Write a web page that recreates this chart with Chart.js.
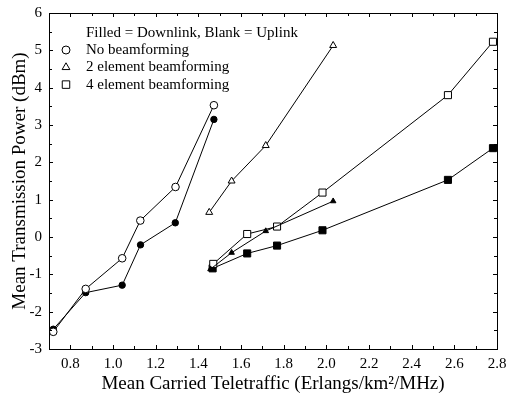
<!DOCTYPE html>
<html>
<head>
<meta charset="utf-8">
<script src="https://cdn.jsdelivr.net/npm/chart.js@4/dist/chart.umd.min.js"></script>
<style>
  body { margin: 0; background: #fff; }
</style>
</head>
<body>
<canvas id="chart" width="507" height="400"></canvas>
<script>
// values
const noBfUpX = [0.72, 0.872, 1.043, 1.128, 1.293, 1.473];
const noBfUpY = [-2.54, -1.39, -0.57, 0.44, 1.34, 3.53];
const noBfDownX = [0.72, 0.872, 1.043, 1.129, 1.292, 1.473];
const noBfDownY = [-2.47, -1.49, -1.29, -0.21, 0.38, 3.15];

const bf2UpX = [1.451, 1.556, 1.716, 2.032];
const bf2UpY = [0.66, 1.5, 2.45, 5.13];
const bf2DownX = [1.457, 1.556, 1.716, 2.032];
const bf2DownY = [-0.86, -0.42, 0.16, 0.96];

const bf4UpX = [1.47, 1.629, 1.769, 1.982, 2.57, 2.781];
const bf4UpY = [-0.72, 0.08, 0.28, 1.19, 3.8, 5.23];
const bf4DownX = [1.467, 1.629, 1.769, 1.982, 2.57, 2.781];
const bf4DownY = [-0.84, -0.44, -0.23, 0.18, 1.53, 2.38];

const legendHeader = "Filled = Downlink, Blank = Uplink";
const legendLabels = ["No beamforming", "2 element beamforming", "4 element beamforming"];
const xTitle = "Mean Carried Teletraffic (Erlangs/km\u00B2/MHz)";
const yTitle = "Mean Transmission Power (dBm)";

const serif = "'Liberation Serif', 'Times New Roman', serif";

function pts(xs, ys) {
    return xs.map((x, i) => ({x: x, y: ys[i]}));
}

function series(xs, ys, style, radius, filled) {
    return {
        data: pts(xs, ys),
        borderColor: '#000',
        borderWidth: 1,
        pointStyle: style,
        pointRadius: radius,
        pointBorderWidth: 1,
        pointBorderColor: '#000',
        pointBackgroundColor: filled ? '#000' : '#fff',
        showLine: true,
        tension: 0
    };
}

// inward ticks on all four sides + frame
const frameTicks = {
    id: 'frameTicks',
    afterDraw(chart) {
        const ctx = chart.ctx;
        const a = chart.chartArea;
        const xs = chart.scales.x;
        const ys = chart.scales.y;
        ctx.save();
        ctx.strokeStyle = '#000';
        ctx.lineWidth = 1;
        ctx.strokeRect(a.left + 0.5, a.top + 0.5, a.right - a.left, a.bottom - a.top);
        ctx.beginPath();
        for (let i = 7; i <= 28; i++) {
            const px = Math.round(xs.getPixelForValue(i / 10)) + 0.5;
            const len = i % 2 === 0 ? 4 : 3;
            ctx.moveTo(px, a.bottom);
            ctx.lineTo(px, a.bottom - len);
            ctx.moveTo(px, a.top);
            ctx.lineTo(px, a.top + len);
        }
        for (let j = -6; j <= 12; j++) {
            const py = Math.round(ys.getPixelForValue(j / 2)) + 0.5;
            const len = j % 2 === 0 ? 4 : 3;
            ctx.moveTo(a.left, py);
            ctx.lineTo(a.left + len, py);
            ctx.moveTo(a.right, py);
            ctx.lineTo(a.right - len, py);
        }
        ctx.stroke();
        ctx.restore();
    }
};

// legend drawn inside the plot area
const innerLegend = {
    id: 'innerLegend',
    afterDraw(chart) {
        const ctx = chart.ctx;
        ctx.save();
        ctx.fillStyle = '#000';
        ctx.font = "15px " + serif;
        ctx.textAlign = 'left';
        ctx.textBaseline = 'middle';
        ctx.fillText(legendHeader, 86, 33);
        const styles = ['circle', 'triangle', 'rect'];
        const radii = [4, 4.5, 5.3];
        for (let i = 0; i < legendLabels.length; i++) {
            const y = 50 + i * 17.3;
            ctx.strokeStyle = '#000';
            ctx.fillStyle = '#fff';
            ctx.lineWidth = 1;
            Chart.helpers.drawPoint(ctx, {pointStyle: styles[i], radius: radii[i], borderWidth: 1}, 66, y);
            ctx.fillStyle = '#000';
            ctx.fillText(legendLabels[i], 86, y);
        }
        ctx.restore();
    }
};

const ctx = document.getElementById('chart').getContext('2d');
new Chart(ctx, {
    type: 'scatter',
    data: {
        datasets: [
            series(noBfUpX, noBfUpY, 'circle', 3.8, false),
            series(noBfDownX, noBfDownY, 'circle', 3.2, true),
            series(bf2UpX, bf2UpY, 'triangle', 4, false),
            series(bf2DownX, bf2DownY, 'triangle', 3.2, true),
            series(bf4UpX, bf4UpY, 'rect', 5, false),
            series(bf4DownX, bf4DownY, 'rect', 5, true)
        ]
    },
    options: {
        responsive: false,
        animation: false,
        layout: { padding: { left: 0, right: 10, top: 13, bottom: 0 } },
        plugins: {
            legend: { display: false },
            tooltip: { enabled: false }
        },
        scales: {
            x: {
                type: 'linear',
                min: 0.7,
                max: 2.8,
                afterFit: s => {
                    s.height = 51;
                    s.paddingLeft = 0;
                    s.paddingRight = 0;
                },
                grid: { display: false, drawTicks: false },
                border: { display: false },
                ticks: {
                    stepSize: 0.1,
                    autoSkip: false,
                    maxRotation: 0,
                    padding: 6,
                    color: '#000',
                    font: { family: serif, size: 15 },
                    callback: v => {
                        const t = Math.round(v * 10);
                        return (t >= 8 && t % 2 === 0) ? (t / 10).toFixed(1) : '';
                    }
                },
                title: {
                    display: true,
                    text: xTitle,
                    color: '#000',
                    font: { family: serif, size: 19, lineHeight: 1.2 },
                    padding: { top: 5, bottom: 5 }
                }
            },
            y: {
                min: -3,
                max: 6,
                afterFit: s => {
                    s.width = 49;
                    s.paddingTop = 0;
                    s.paddingBottom = 0;
                },
                grid: { display: false, drawTicks: false },
                border: { display: false },
                ticks: {
                    stepSize: 1,
                    autoSkip: false,
                    padding: 7,
                    color: '#000',
                    font: { family: serif, size: 15 }
                },
                title: {
                    display: true,
                    text: yTitle,
                    color: '#000',
                    font: { family: serif, size: 19, lineHeight: 1.2 },
                    padding: { top: 9, bottom: 9 }
                }
            }
        }
    },
    plugins: [frameTicks, innerLegend]
});
</script>
</body>
</html>
